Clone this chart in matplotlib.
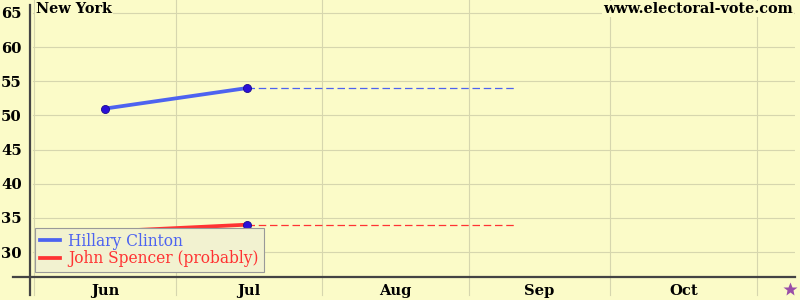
import numpy as np
import matplotlib
matplotlib.use('Agg')
import matplotlib.pyplot as plt

plt.rcParams['font.family'] = 'DejaVu Serif'

# poll data (New York, 2016)
start = np.datetime64('2016-06-01')
poll_dates = ['2016-06-16', '2016-07-16']
clinton = [51, 54]
spencer = [33, 34]
dash_end = '2016-09-11'
election = '2016-11-08'

months = ['Jun', 'Jul', 'Aug', 'Sep', 'Oct']
month_starts = ['2016-06-01', '2016-07-01', '2016-08-01', '2016-09-01',
                '2016-10-01', '2016-11-01']
y_ticks = [30, 35, 40, 45, 50, 55, 60, 65]


def day(d):
    return (np.datetime64(d) - start).astype(int)


x_poll = [day(d) for d in poll_dates]
x_bounds = [day(d) for d in month_starts]
x_mid = [(a + b) / 2 for a, b in zip(x_bounds[:-1], x_bounds[1:])]

bg = '#fbfbc8'
grid_c = '#d6d6ae'

fig = plt.figure(figsize=(8, 3), dpi=100, facecolor=bg)
ax = fig.add_axes([30 / 800, 23 / 300, 765 / 800, 272 / 300])
ax.set_facecolor(bg)
ax.set_xlim(-0.85, 161.06)
ax.set_ylim(26.34, 66.17)

for s in ax.spines.values():
    s.set_visible(False)

# grid
for y in y_ticks:
    ax.axhline(y, xmin=3 / 765, xmax=1, color=grid_c, lw=0.8, zorder=0)
for x in x_bounds:
    ax.axvline(x, ymin=-18 / 272, ymax=1 + 5 / 272, color=grid_c, lw=0.8,
               zorder=0, clip_on=False)

# axis lines
ax.axvline(ax.get_xlim()[0], ymin=-18 / 272, ymax=1, color='#444444', lw=1.6,
           clip_on=False, zorder=3)
ax.axhline(ax.get_ylim()[0], xmin=-17 / 765, xmax=1, color='#444444', lw=1.6,
           clip_on=False, zorder=3)

ax.set_yticks(y_ticks)
ax.set_yticklabels([str(v) for v in y_ticks], fontweight='bold', fontsize=10.6)
ax.set_xticks(x_mid)
ax.set_xticklabels(months, fontweight='bold', fontsize=10.6)
ax.tick_params(axis='y', length=0, pad=6)
ax.tick_params(axis='x', length=0, pad=5)

blue = '#4d63f0'
red = '#ff3333'
mk = '#2a10d8'

ax.plot(x_poll, clinton, color=blue, lw=2.7, label='Hillary Clinton', zorder=4)
ax.plot(x_poll, spencer, color=red, lw=2.7, label='John Spencer (probably)',
        zorder=4)
ax.plot([x_poll[-1], day(dash_end)], [clinton[-1]] * 2, color=blue, lw=0.9,
        ls=(0, (6, 3)), zorder=4)
ax.plot([x_poll[-1], day(dash_end)], [spencer[-1]] * 2, color=red, lw=0.9,
        ls=(0, (6, 3)), zorder=4)
ax.plot(x_poll, clinton, 'o', color=mk, ms=5.8, mec='#1a0a90', mew=0.6, zorder=5)
ax.plot(x_poll, spencer, 'o', color=mk, ms=5.8, mec='#1a0a90', mew=0.6, zorder=5)

# election day
ax.plot(day(election), 24.6, marker='*', color='#9a4fa8', ms=10, mec='none',
        clip_on=False, zorder=5)

leg = ax.legend(loc='lower left', bbox_to_anchor=(35 / 800, 28 / 300),
                bbox_transform=fig.transFigure, fontsize=11.2, fancybox=False,
                framealpha=1, facecolor='#f2f2d0', edgecolor='#999999',
                handlelength=1.3, handletextpad=0.55, borderpad=0.3,
                borderaxespad=0, labelspacing=0.05)
leg.set_zorder(10)
leg.get_frame().set_linewidth(0.8)
for t, c in zip(leg.get_texts(), [blue, red]):
    t.set_color(c)

fig.text(36 / 800, 1 - 2 / 300, 'New York', fontsize=10.4, fontweight='bold',
         ha='left', va='top',
         bbox=dict(facecolor=bg, edgecolor='none', pad=1))
fig.text(793 / 800, 1 - 2 / 300, 'www.electoral-vote.com', fontsize=10.4,
         fontweight='bold', ha='right', va='top',
         bbox=dict(facecolor=bg, edgecolor='none', pad=1))

fig.savefig('out.png', dpi=100, facecolor=bg)
